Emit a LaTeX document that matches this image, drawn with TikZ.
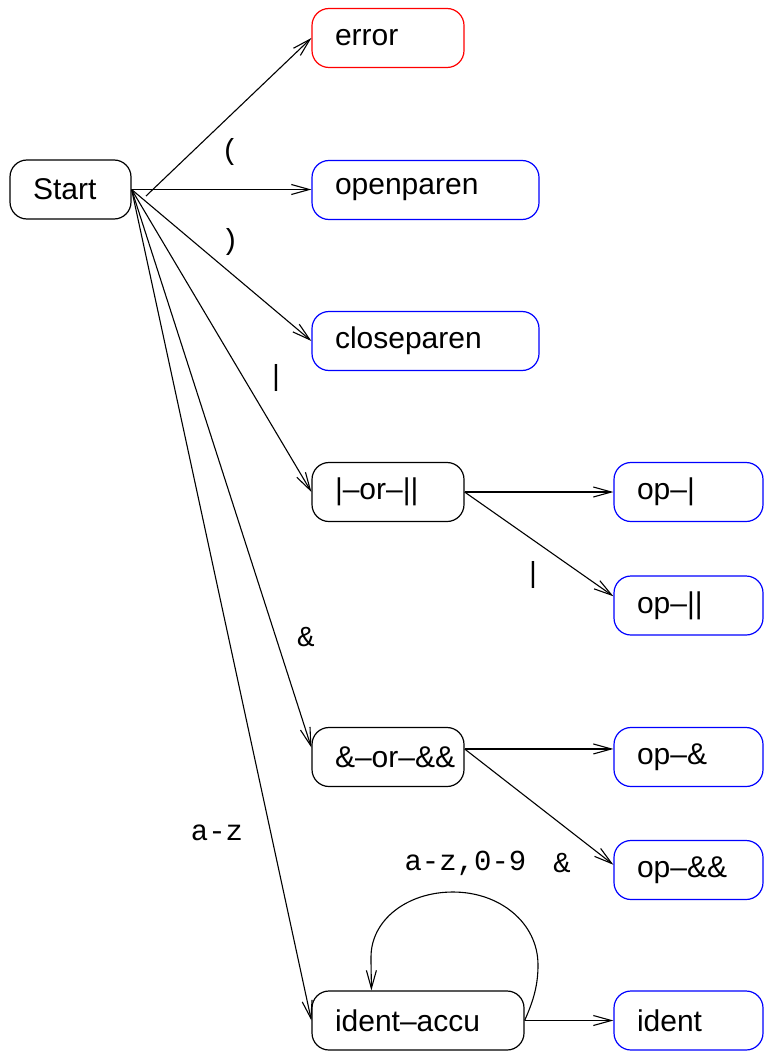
\documentclass[tikz,border=0pt]{standalone}
\usepackage{fontspec}
\setmainfont{Liberation Sans}
\newfontfamily\monolab{Liberation Mono}
\usetikzlibrary{arrows.meta}
\definecolor{pred}{RGB}{255,0,0}
\definecolor{pblue}{RGB}{0,0,255}
\tikzset{
  st/.style={draw=black, line width=1.2pt, rounded corners=17pt, inner xsep=23pt, inner ysep=0pt,
    minimum height=59pt, align=left, anchor=center, font=\fontsize{30}{34}\selectfont},
  w121/.style={text width=75pt},
  w152/.style={text width=106pt},
  w149/.style={text width=103pt},
  w227/.style={text width=181pt},
  w212/.style={text width=166pt},
  fin/.style={draw=pblue},
  err/.style={draw=pred},
  edge/.style={line width=1.1pt, -{Straight Barb[length=18pt,width=10pt,line width=1.1pt]}},
  lab/.style={inner sep=0pt, anchor=center, font=\monolab\fontsize{29}{32}\selectfont}
}
\begin{document}
\begin{tikzpicture}[x=1pt,y=-1pt]
\useasboundingbox (0,0) rectangle (764,1051);
% nodes
\node[st,w121] (start) at (70.5,189.5) {\mbox{Start}};
\node[st,w152,err] (error) at (388,38) {\mbox{error}};
\node[st,w227,fin] (openp) at (425.5,190) {\mbox{openparen}};
\node[st,w227,fin] (closep) at (425.5,341) {\mbox{closeparen}};
\node[st,w152] (or) at (388,492) {\mbox{|\textendash or\textendash ||}};
\node[st,w149,fin] (opor) at (688.5,492) {\mbox{op\textendash |}};
\node[st,w149,fin] (oporor) at (688.5,605.5) {\mbox{op\textendash ||}};
\node[st,w152] (and) at (388,757) {\mbox{\&\textendash or\textendash \&\&}};
\node[st,w149,fin] (opand) at (688.5,757) {\mbox{op\textendash \&}};
\node[st,w149,fin] (opandand) at (688.5,870) {\mbox{op\textendash \&\&}};
\node[st,w212] (ia) at (418,1020.5) {\mbox{ident\textendash accu}};
\node[st,w149,fin] (ident) at (688.5,1020.5) {\mbox{ident}};
% helper coordinates
\coordinate (erst) at (146,196);
\coordinate (loopr) at (538,965);
\coordinate (looptop) at (453,892);
\coordinate (loopl) at (371,957);
% edges from start
\draw[edge] (erst) -- (error.west);
\draw[edge] (start.east) -- (start.east -| openp.west);
\draw[edge] (start.east) -- (closep.west);
\draw[edge] (start.east) -- (or.west);
\draw[edge] (start.east) -- (and.173);
\draw[edge] (start.east) -- (ia.west);
% edges from |-or-||
\draw[edge] (or.east) -- (or.east -| opor.west);
\draw[edge] (or.east) -- (oporor.173);
% edges from &-or-&&
\draw[edge] (and.6) -- (and.6 -| opand.west);
\draw[edge] (and.6) -- (opandand.176);
% ident-accu
\draw[edge] (ia.east) -- (ident.west);
\draw[edge] (ia.east) .. controls +(9,-20) and +(0,20) .. (loopr)
  .. controls +(0,-42) and +(47,0) .. (looptop)
  .. controls +(-46,0) and +(0,-37) .. (loopl)
  .. controls +(0,13) and +(0,-10) .. ([xshift=60pt]ia.north west);
% labels
\node[lab] (l1) at (230,152) {(};
\node[lab] (l2) at (230,242) {)};
\node[lab] (l3) at (276,378) {|};
\node[lab] (l4) at (306,637) {\&};
\node[lab] (l5) at (217,833) {a-z};
\node[lab] (l6) at (533,575) {|};
\node[lab] (l7) at (465.5,863) {a-z,0-9};
\node[lab] (l8) at (562,863) {\&};
\end{tikzpicture}
\end{document}
